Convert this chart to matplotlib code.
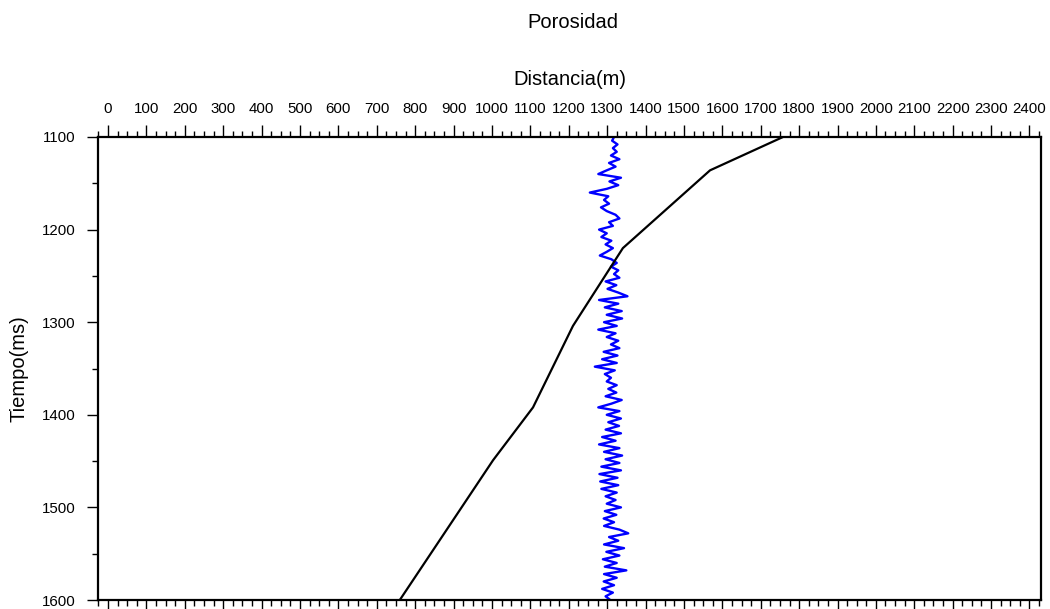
import numpy as np
import matplotlib
matplotlib.use("Agg")
import matplotlib.pyplot as plt
from matplotlib.ticker import MultipleLocator

plt.rcParams['font.family'] = ['Liberation Sans', 'DejaVu Sans']

# black curve (distance vs time)
curve_x = [1758, 1568, 1341, 1211, 1107, 1003, 760]
curve_t = [1100, 1136, 1220, 1304, 1392, 1449, 1600]

# blue porosity log, read every 4 ms from 1100 to 1600
log_t = np.arange(1100, 1601, 4)
log_x = [
    1318, 1313, 1327, 1315, 1325, 1310, 1332, 1305, 1322, 1299, 1277, 1336,
    1306, 1329, 1299, 1255, 1303, 1292, 1305, 1284, 1299, 1322, 1332, 1305,
    1315, 1279, 1299, 1285, 1311, 1296, 1315, 1299,
    1281, 1311, 1325, 1310, 1329, 1318, 1332, 1296, 1324, 1301, 1329, 1353,
    1279, 1329, 1294, 1338, 1299, 1339, 1292, 1325, 1277, 1322, 1299, 1329,
    1310, 1332, 1291, 1327, 1287, 1325, 1268,
    1320, 1294, 1310, 1299, 1325, 1303, 1324, 1296, 1338, 1311, 1277, 1332,
    1299, 1336, 1303, 1331, 1296, 1336, 1287, 1322, 1279, 1332, 1292, 1339,
    1296, 1332, 1285, 1336, 1280, 1327, 1282,
    1329, 1285, 1325, 1296, 1322, 1299, 1336, 1294, 1324, 1291, 1318, 1292,
    1332, 1355, 1305, 1329, 1292, 1344, 1298, 1332, 1289, 1325, 1294, 1350,
    1292, 1325, 1291, 1318, 1287, 1315, 1296, 1308,
]

x_ticks = list(range(0, 2401, 100))
y_ticks = [1100, 1200, 1300, 1400, 1500, 1600]

fig = plt.figure(figsize=(10.5, 6.09), dpi=100)
ax = fig.add_axes([98 / 1050, 9 / 609, 943 / 1050, 463 / 609])

ax.plot(log_x, log_t, color='#0000ff', lw=1.7, zorder=2)
ax.plot(curve_x, curve_t, color='black', lw=1.6, zorder=3)

ax.set_xlim(-26, 2430)
ax.set_ylim(1600, 1100)

# x axis: labels on top, ticks on top and bottom
ax.xaxis.set_ticks_position('both')
ax.xaxis.set_label_position('top')
ax.set_xticks(x_ticks)
ax.xaxis.set_minor_locator(MultipleLocator(25))
ax.tick_params(axis='x', which='major', direction='out', length=9, width=1,
               labeltop=True, labelbottom=False, labelsize=10.8, pad=6)
ax.tick_params(axis='x', which='minor', direction='out', length=4.5, width=1,
               top=True, bottom=True)

# y axis: left only
ax.set_yticks(y_ticks)
ax.yaxis.set_minor_locator(MultipleLocator(50))
ax.tick_params(axis='y', which='major', direction='out', length=8, width=1,
               left=True, right=False, labelsize=10.8, pad=8)
ax.tick_params(axis='y', which='minor', direction='out', length=4.5, width=1,
               left=True, right=False)

for s in ax.spines.values():
    s.set_linewidth(1.6)

ax.set_xlabel('Distancia(m)', fontsize=14.5, labelpad=12.5)
ax.set_ylabel('Tiempo(ms)', fontsize=14.5, labelpad=10)
fig.text(573 / 1050, 1 - 22 / 609, 'Porosidad', fontsize=14.5,
         ha='center', va='center')

fig.savefig('out.png', dpi=100)
